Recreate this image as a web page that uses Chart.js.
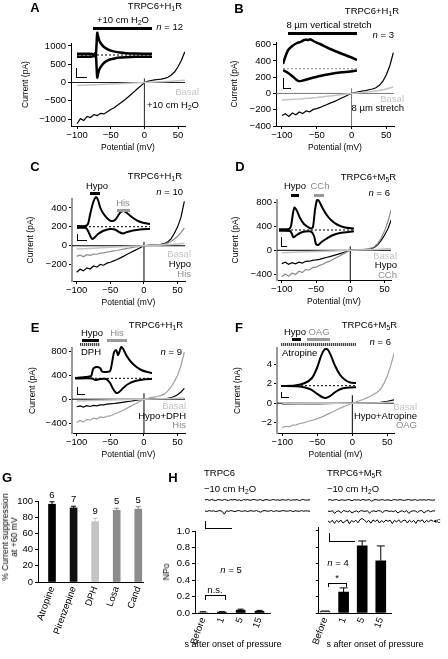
<!DOCTYPE html>
<html><head><meta charset="utf-8">
<script src="https://cdn.jsdelivr.net/npm/chart.js@4.4.1/dist/chart.umd.min.js"></script>
<style>
html,body{margin:0;padding:0;background:#fff;}
#fig{position:relative;width:448px;height:659px;overflow:hidden;background:#fff;font-family:'Liberation Sans',Arial,Helvetica,sans-serif;color:#000;}
#fig canvas{position:absolute;}
.lbl{position:absolute;white-space:nowrap;font-size:9.5px;line-height:1.15;will-change:transform;}
.lbl sub{font-size:70%;vertical-align:-0.3em;line-height:0;}
.let{font-weight:bold;font-size:13px;}
.box{position:absolute;}
.hatch{background:repeating-linear-gradient(90deg,#444 0 1px,#c8c8c8 1px 2px);}
</style></head><body><div id="fig"></div>
<script>
// ---- data ----
const mV = [-100,-95,-90,-85,-80,-75,-70,-65,-60,-55,-50,-45,-40,-35,-30,-25,-20,-15,-10,-5,0,5,10,15,20,25,30,35,40,45,50,55,60];
const mvCoarse = [-100,-75,-50,-25,0,25,40,50,60];
const potTicks = [-100,-50,0,50];

const aH2O = [-1130,-990,-1040,-930,-960,-880,-905,-845,-860,-800,-740,-690,-625,-555,-485,-410,-330,-250,-165,-85,-5,30,55,70,82,95,112,145,205,295,430,610,840];
const aBasal = [-80,-60,-40,-20,0,18,34,46,60];
const aTicks = [-1000,-500,0,500,1000];

const bStretch = [-270,-250,-282,-240,-262,-228,-246,-214,-226,-196,-186,-172,-152,-136,-116,-100,-80,-60,-40,-20,0,10,20,28,35,45,55,70,100,150,230,340,500];
const bBasal = [-80,-68,-50,-25,0,20,36,54,80];
const bTicks = [-400,-200,0,200,400,600];

const cHypo = [-280,-248,-266,-234,-246,-214,-226,-198,-206,-184,-175,-160,-145,-128,-110,-90,-72,-54,-36,-18,0,5,8,10,12,15,22,40,70,130,200,300,470];
const cHis = [-112,-98,-116,-94,-102,-88,-90,-78,-76,-66,-62,-55,-50,-42,-35,-28,-22,-15,-10,-5,0,3,5,7,9,12,18,28,45,70,100,140,190];
const cBasal = [-35,-26,-17,-9,0,8,14,19,26];
const cTicks = [-200,0,200,400];

const dHypo = [-222,-198,-232,-206,-226,-198,-212,-184,-182,-168,-160,-150,-135,-120,-105,-90,-72,-55,-37,-18,0,5,8,10,12,15,25,45,90,160,250,360,510];
const dCCh = [-440,-396,-432,-378,-404,-350,-372,-318,-332,-290,-282,-252,-232,-202,-180,-150,-120,-90,-60,-30,0,5,10,13,17,22,35,60,110,200,320,480,680];
const dBasal = [-40,-30,-20,-10,0,8,15,22,30];
const dTicks = [-400,0,400,800];

const eHypoDPH = [-126,-112,-132,-108,-122,-104,-112,-94,-96,-84,-78,-72,-65,-57,-50,-42,-34,-25,-17,-8,0,3,5,6,7,8,10,15,25,45,75,120,180];
const eHis = [-392,-356,-384,-338,-352,-318,-332,-296,-308,-286,-280,-252,-232,-206,-180,-150,-120,-90,-60,-30,0,12,25,35,45,60,85,130,200,290,400,560,790];
const eBasal = [-30,-22,-15,-7,0,6,11,15,20];
const eTicks = [-400,0,400,800];

const fOAG = [-2.5,-2.36,-2.42,-2.24,-2.22,-2.08,-2.02,-1.9,-1.8,-1.7,-1.58,-1.45,-1.3,-1.12,-0.95,-0.78,-0.6,-0.43,-0.28,-0.13,0,0.12,0.25,0.38,0.52,0.68,0.88,1.1,1.4,2.0,2.8,3.9,5.2];
const fHypoAtr = [-0.1,-0.08,-0.06,-0.03,0,0.04,0.1,0.2,0.35];
const fBasal = [-0.06,-0.05,-0.03,-0.015,0,0.02,0.04,0.06,0.08];
const fTicks = [-2,0,2,4];

// inset current traces (time in % of the trace, current in arbitrary units)
const aInT = [0,8,16,20,22,24,25,26,27,28,30,33,37,41,45,50,57,65,77,88,100];
const aInUp = [60,65,60,55,20,-60,-80,500,1110,950,700,520,370,280,220,170,120,90,70,65,65];
const aInDn = [-90,-85,-90,-80,-40,80,110,-500,-1130,-950,-700,-520,-360,-270,-210,-170,-130,-110,-90,-85,-85];

const bInUpT = [0,3,7,12.5,19,23,26,30,34,37,41,50,64,77,91,100];
const bInUp = [94,234,374,454,514,530,554,580,574,590,554,494,394,314,234,174];
const bInDnT = [0,7,14,20.6,27,36.7,50,64,77,91,100];
const bInDn = [-26,-86,-166,-246,-236,-196,-146,-106,-76,-56,-36];

const cInUpT = [0,11,15,17.8,21.9,26,28.8,31.5,35.6,41,46.6,52,56,60,64.4,68.5,75,83.6,91.8,100];
const cInUp = [7,7,27,117,237,297,267,197,137,87,57,67,107,147,157,137,97,57,37,27];
const cInDnT = [0,12.3,16.4,20.5,24.7,28.8,35.6,45.2,52,57.5,63,68.5,76.7,86.3,100];
const cInDn = [-13,-13,-63,-123,-103,-73,-43,-23,-28,-53,-68,-53,-38,-28,-23];

const dInUpT = [0,13.3,16,18.7,20.7,24,28,33.3,38.7,42.7,45.3,48,50.7,53.3,57.3,62.7,69.3,77.3,88,100];
const dInUp = [7,10,40,170,225,190,120,60,30,15,30,200,300,290,230,160,100,55,25,15];
const dInDnT = [0,14.7,17.3,19.3,22.7,28,34.7,42.7,46.7,49.3,52,56,62.7,70.7,81.3,100];
const dInDn = [-7,-10,-40,-73,-55,-30,-15,-15,-60,-140,-150,-125,-90,-55,-30,-13];

const eInUpT = [0,13,20.9,23.5,27.4,32.6,35.2,40.4,45.6,48.2,50.8,53.5,56,60,62.6,66.5,71.7,78.2,86,93.9,100];
const eInUp = [3,13,23,93,113,103,68,63,73,163,263,283,233,313,293,233,173,123,83,63,53];
const eInDnT = [0,22.2,26.1,32.6,40.4,45.6,49.5,53.5,57.4,62.6,69.1,78.2,88.7,100];
const eInDn = [-2,-2,-17,-7,-7,-47,-107,-147,-137,-97,-57,-27,-12,-7];

const fInUpT = [0,18.4,31.9,41.3,48,53.4,57.4,60.1,62.8,66.8,72.2,78.9,85.6,92.3,100];
const fInUp = [-3,2,27,77,177,297,357,367,357,297,197,107,57,32,27];
const fInDnT = [0,25.1,38.6,46.6,54.7,59.7,65.5,73.5,81.6,92.3,100];
const fInDn = [-3,-8,-33,-73,-113,-123,-103,-58,-28,-18,-16];

// G: suppression at +60 mV
const gDrugs = ['Atropine','Pirenzepine','DPH','Losa','Cand'];
const gSuppr = [96,91.5,74.5,88.5,90];
const gErr = [3,2,4.2,2.5,3];
const gN = [6,7,9,5,5];
const gTicks = [0,20,40,60,80,100];

// H: single channel NPo
const hCats = ['Before','1','5','15'];
const npoTRPC6 = [0.012,0.012,0.035,0.022];
const npoTRPC6Err = [0.004,0.004,0.012,0.01];
const npoM5R = [0.02,0.255,0.815,0.635];
const npoM5RErr = [0.004,0.05,0.06,0.18];
const npoTicks = [0,0.2,0.4,0.6,0.8,1.0];
const hL1 = [0,.3,-.2,.2,0,-.3,.2,.1,-.2,.3,0,-.3,.2,0,.3,-.2,.1,-.4,.2,0,.2,-.2,.1,.3,-.1,0,.2,-.3,.1,.2,-.2,0,.3,-.1,.1,-.2,.2,0,-.1,.3,-.2,.1,0,.2,-.3,.1,.2,-.1,0,.1];
const hL2 = [0,-.2,.2,-.1,.1,-.3,0,.2,-.2,-1.6,.1,-.2,.2,0,-.3,.1,.2,-.2,0,.1,-.3,.2,0,-.1,.2,-.2,-.6,.1,.2,-.1,0,.2,-.3,.1,0,-.2,.2,.1,-.1,0,.2,-.3,.1,0,-.2,.2,-.1,.1,0,-.1];
const hR1 = [0,.2,-.2,.1,.2,-.3,.1,0,-.2,.2,.1,-.4,.2,0,.1,-.2,.3,-.1,0,.2,-.6,.1,.2,-.1,0,.2,-.2,.1,0,-.3,.2,.1,-.1,.2,0,-.2,.1,.2,-.1,0,.2,-.2,.1,0,.1,-.1,.2,0,-.1,.1];
const hR2 = [0,-.3,.2,-1.2,-.2,.1,-.9,.2,0,-.4,.2,-1.0,-.3,.1,-.6,.2,0,-.2,.2,-1.1,-.1,.1,-.3,.2,0,-.8,.1,.2,-.2,0,-.3,.2,-1.0,-.2,.1,-.5,.2,-1.2,-.2,.1,0,-.7,.1,.2,-1.0,-.1,.2,-.4,.1,0];
const hR3 = [0,-.8,.4,-1.2,.3,-.6,.5,-1.0,-.2,.6,-1.4,.2,-.5,.4,-.9,.8,1.2,.4,-.6,.3,-1.1,.5,-.3,.6,-1.0,.2,-.7,.5,-.2,.4,-1.3,.3,-.5,.6,-.8,.2,.5,-1.0,.4,-.6,.3,-1.2,.5,-.2,.6,-.9,.3,-.4,.5,0];

// ---- drawing ----
const FONT = "'Liberation Sans', Arial, Helvetica, sans-serif";
Chart.defaults.font.family = FONT;
Chart.defaults.font.size = 9.5;
Chart.defaults.color = '#000';
const GRAY = '#8c8c8c', LIGHT = '#c4c4c4';
const fig = document.getElementById('fig');

function mkCanvas(l, t, w, h) {
  const c = document.createElement('canvas');
  c.width = Math.round(w); c.height = Math.round(h);
  c.style.left = Math.round(l) + 'px'; c.style.top = Math.round(t) + 'px';
  fig.appendChild(c);
  return c;
}
function txt(html, x, y, o = {}) {
  const d = document.createElement('div');
  d.className = 'lbl' + (o.cls ? ' ' + o.cls : '');
  d.innerHTML = html;
  d.style.left = x + 'px'; d.style.top = y + 'px';
  if (o.color) d.style.color = o.color;
  if (o.size) d.style.fontSize = o.size + 'px';
  const ax = o.align === 'left' ? '0' : o.align === 'right' ? '-100%' : '-50%';
  d.style.transform = `translate(${ax},-50%)` + (o.rot ? ` rotate(${o.rot}deg)` : '');
  fig.appendChild(d);
}
function rect(x1, y1, x2, y2, color, cls) {
  const d = document.createElement('div');
  d.className = 'box' + (cls ? ' ' + cls : '');
  d.style.left = x1 + 'px'; d.style.top = y1 + 'px';
  d.style.width = (x2 - x1) + 'px'; d.style.height = (y2 - y1) + 'px';
  if (color) d.style.background = color;
  fig.appendChild(d);
}
const fmt = v => v < 0 ? '\u2212' + Math.abs(v) : String(v);
const pts = (xs, ys) => xs.map((v, i) => ({ x: v, y: ys[i] }));
const base = { responsive: false, animation: false, devicePixelRatio: 1, events: [],
  plugins: { legend: { display: false }, tooltip: { enabled: false } } };

const refLines = {
  id: 'refLines',
  beforeDatasetsDraw(chart, args, o) {
    const { ctx, chartArea: a, scales: { x, y } } = chart;
    const y0 = y.getPixelForValue(0), x0 = x.getPixelForValue(0);
    ctx.save();
    ctx.strokeStyle = o.color; ctx.lineWidth = 1;
    ctx.beginPath();
    ctx.moveTo(a.left, y0); ctx.lineTo(a.right, y0);
    ctx.moveTo(x0, a.bottom); ctx.lineTo(x0, y0 - o.above);
    ctx.stroke();
    ctx.restore();
  }
};

function ivChart(p) {
  const PT = 8, PR = 10, XH = 28;
  const cv = mkCanvas(p.l - p.yw, p.t - PT, p.yw + (p.r - p.l) + PR, PT + (p.b - p.t) + XH);
  new Chart(cv, {
    type: 'scatter',
    data: { datasets: p.lines.map(s => ({ data: pts(s[0], s[1]), showLine: true, borderColor: s[2],
      borderWidth: s[3], pointRadius: 0, tension: 0 })) },
    options: Object.assign({}, base, {
      layout: { padding: { top: PT, right: PR, left: 0, bottom: 0 } },
      plugins: Object.assign({}, base.plugins, { refLines: { color: p.zero, above: p.above } }),
      scales: {
        x: { type: 'linear', min: p.x[0], max: p.x[1],
          afterFit: s => { s.height = XH; },
          afterBuildTicks: s => { s.ticks = potTicks.map(v => ({ value: v })); },
          ticks: { callback: fmt, padding: 1, maxRotation: 0, autoSkip: false },
          grid: { drawOnChartArea: false, tickLength: 3, color: '#000' },
          border: { color: '#000', width: 1 },
          title: { display: true, text: 'Potential (mV)', font: { size: 8.5 }, padding: { top: 0, bottom: 1 } } },
        y: { min: p.y[0], max: p.y[1],
          afterFit: s => { s.width = p.yw; },
          afterBuildTicks: s => { s.ticks = p.yTicks.map(v => ({ value: v })); },
          ticks: { callback: fmt, padding: 2, autoSkip: false },
          grid: { drawOnChartArea: false, tickLength: 3, color: '#000' },
          border: { color: p.axis, width: p.axisW },
          title: { display: true, text: p.yTitle, font: { size: 8.5 }, padding: { top: 2, bottom: 0 } } }
      }
    }),
    plugins: [refLines]
  });
}

function inset(b, traces, dash, w) {
  const cv = mkCanvas(b.l, b.t, b.w, b.h);
  const ds = traces.map(tr => ({ data: pts(tr[0], tr[1]), showLine: true, borderColor: '#000',
    borderWidth: w, pointRadius: 0, tension: 0.25, clip: false }));
  const all = traces.flatMap(tr => tr[0]);
  const t0 = Math.min(...all), t1 = Math.max(...all);
  ds.unshift({ data: [{ x: t0, y: 0 }, { x: t1, y: 0 }], showLine: true, borderColor: dash,
    borderWidth: 1, borderDash: [2, 2], pointRadius: 0, clip: false });
  new Chart(cv, { type: 'scatter', data: { datasets: ds },
    options: Object.assign({}, base, { layout: { padding: 0 },
      scales: { x: { display: false, min: 0, max: 100 }, y: { display: false, min: b.y[0], max: b.y[1] } } }) });
}

// IV panels
const ivPanels = [
  { l: 71, r: 184.5, t: 42.7, b: 126, x: [-109, 60.3], y: [-1191, 1082], yTicks: aTicks, yw: 52, yTitle: 'Current (pA)',
    axis: '#000', axisW: 1, zero: '#222', above: 4,
    lines: [[mvCoarse, aBasal, LIGHT, 1.5], [mV, aH2O, '#000', 1.2]] },
  { l: 276.3, r: 394, t: 41.7, b: 126, x: [-108.5, 61], y: [-400, 632], yTicks: bTicks, yw: 48, yTitle: 'Current (pA)',
    axis: '#000', axisW: 1, zero: '#777', above: 5,
    lines: [[mvCoarse, bBasal, LIGHT, 1.5], [mV, bStretch, '#000', 1.2]] },
  { l: 71.7, r: 185, t: 199.3, b: 281.7, x: [-107, 61], y: [-373, 495], yTicks: cTicks, yw: 48, yTitle: 'Current (pA)',
    axis: '#9a9a9a', axisW: 2, zero: '#000', above: 4,
    lines: [[mvCoarse, cBasal, LIGHT, 1.5], [mV, cHis, GRAY, 1.2], [mV, cHypo, '#000', 1.2]] },
  { l: 277.3, r: 391.5, t: 200, b: 280, x: [-107, 59.5], y: [-495, 838], yTicks: dTicks, yw: 48, yTitle: 'Current (pA)',
    axis: '#9a9a9a', axisW: 2, zero: '#000', above: 4,
    lines: [[mvCoarse, dBasal, LIGHT, 1.5], [mV, dCCh, GRAY, 1.2], [mV, dHypo, '#000', 1.2]] },
  { l: 71.7, r: 185, t: 348.3, b: 433, x: [-107, 61], y: [-566, 857], yTicks: eTicks, yw: 46, yTitle: 'Current (pA)',
    axis: '#9a9a9a', axisW: 2, zero: '#000', above: 6,
    lines: [[mvCoarse, eBasal, LIGHT, 1.5], [mV, eHis, '#a0a0a0', 1.2], [mV, eHypoDPH, '#000', 1.2]] },
  { l: 276.7, r: 394, t: 348.3, b: 433, x: [-107.6, 59.5], y: [-3.05, 5.65], yTicks: fTicks, yw: 46, yTitle: 'Current (nA)',
    axis: '#9a9a9a', axisW: 2, zero: '#000', above: 8,
    lines: [[mvCoarse, fBasal, LIGHT, 1.5], [mV, fOAG, '#a0a0a0', 1.2], [mvCoarse, fHypoAtr, '#000', 1.2]] }
];
ivPanels.forEach(ivChart);

// insets
inset({ l: 77, t: 30, w: 75, h: 50, y: [-1250, 1250] }, [[aInT, aInUp], [aInT, aInDn]], '#000', 2.5);
inset({ l: 283, t: 35, w: 74, h: 57, y: [-466, 674] }, [[bInUpT, bInUp], [bInDnT, bInDn]], '#888', 2.5);
inset({ l: 77, t: 190, w: 73, h: 55, y: [-183, 367] }, [[cInUpT, cInUp], [cInDnT, cInDn]], '#000', 2);
inset({ l: 279, t: 195, w: 75, h: 55, y: [-200, 350] }, [[dInUpT, dInUp], [dInDnT, dInDn]], '#000', 2);
inset({ l: 75, t: 340, w: 77, h: 60, y: [-217, 383] }, [[eInUpT, eInUp], [eInDnT, eInDn]], '#000', 2);
inset({ l: 281, t: 345, w: 75, h: 57, y: [-163, 407] }, [[fInUpT, fInUp], [fInDnT, fInDn]], '#000', 2);

// error bars + n labels for bar charts
const errorBars = {
  id: 'errorBars',
  afterDatasetsDraw(chart) {
    const ctx = chart.ctx, ys = chart.scales.y;
    chart.data.datasets.forEach((ds, di) => {
      if (!ds.errs) return;
      chart.getDatasetMeta(di).data.forEach((bar, i) => {
        const top = ys.getPixelForValue(ds.data[i].y + ds.errs[i]);
        ctx.save();
        ctx.strokeStyle = ds.errColors[i]; ctx.lineWidth = 1;
        ctx.beginPath();
        ctx.moveTo(bar.x, bar.y); ctx.lineTo(bar.x, top);
        ctx.moveTo(bar.x - ds.cap, top); ctx.lineTo(bar.x + ds.cap, top);
        ctx.stroke();
        if (ds.nLabels) {
          ctx.fillStyle = '#000'; ctx.font = '9.5px ' + FONT;
          ctx.textAlign = 'center'; ctx.textBaseline = 'bottom';
          ctx.fillText(String(ds.nLabels[i]), bar.x, top - 2);
        }
        ctx.restore();
      });
    });
  }
};

function barChart(p) {
  const cv = mkCanvas(p.l - p.yw, p.t - p.pt, p.yw + (p.r - p.l) + 10, p.pt + (p.b - p.t) + p.xh);
  new Chart(cv, {
    type: 'bar',
    data: { datasets: [{ data: p.vals.map((v, i) => ({ x: i + 1, y: v })), backgroundColor: p.colors,
      borderColor: '#000', borderWidth: p.borders, barThickness: p.bw, errs: p.errs, errColors: p.errColors,
      cap: p.cap, nLabels: p.n }] },
    options: Object.assign({}, base, {
      layout: { padding: { top: p.pt, right: 10, left: 0, bottom: 0 } },
      scales: {
        x: { type: 'linear', min: p.x[0], max: p.x[1], offset: false,
          afterFit: s => { s.height = p.xh; },
          afterBuildTicks: s => { s.ticks = p.cats.map((c, i) => ({ value: i + 1 })); },
          ticks: { callback: (v, i) => p.cats[i], minRotation: p.rot, maxRotation: p.rot, autoSkip: false, padding: 3 },
          grid: { display: true, drawOnChartArea: false, drawTicks: false, offset: false },
          border: { color: '#000', width: 1 } },
        y: { min: p.y[0], max: p.y[1],
          afterFit: s => { s.width = p.yw; },
          afterBuildTicks: s => { s.ticks = p.yTicks.map(v => ({ value: v })); },
          ticks: { callback: p.yFmt, padding: 2, autoSkip: false, font: { size: 9.5 } },
          grid: { drawOnChartArea: false, tickLength: 3, color: '#000' },
          border: { color: '#000', width: 1 } }
      }
    }),
    plugins: [errorBars]
  });
}

barChart({ l: 38.3, r: 143.3, t: 501, b: 582.3, pt: 15, xh: 72, yw: 30, x: [0.35, 5.22], y: [0, 100],
  yTicks: gTicks, yFmt: v => String(v), cats: gDrugs, rot: 70, vals: gSuppr, errs: gErr, n: gN,
  colors: ['#000', '#111', '#c4c4c4', '#8c8c8c', '#8c8c8c'], errColors: ['#000', '#000', '#c4c4c4', '#8c8c8c', '#8c8c8c'],
  borders: 0, bw: 7, cap: 2.5 });
barChart({ l: 195, r: 270, t: 531, b: 613.3, pt: 8, xh: 40, yw: 25, x: [0.574, 4.56], y: [0, 1],
  yTicks: npoTicks, yFmt: v => v.toFixed(1), cats: hCats, rot: 70, vals: npoTRPC6, errs: npoTRPC6Err,
  colors: ['#8c8c8c', '#000', '#000', '#000'], errColors: ['#000', '#000', '#000', '#000'], borders: 0, bw: 9, cap: 3 });
barChart({ l: 317.3, r: 391, t: 527.3, b: 613.3, pt: 8, xh: 40, yw: 5, x: [0.66, 4.55], y: [0, 1.045],
  yTicks: npoTicks, yFmt: () => '', cats: hCats, rot: 70, vals: npoM5R, errs: npoM5RErr,
  colors: ['#fff', '#000', '#000', '#000'], errColors: ['#000', '#000', '#000', '#000'], borders: [1, 0, 0, 0], bw: 10, cap: 4 });

// single-channel traces
function traceRow(vals, l, y, w) {
  const cv = mkCanvas(l, y - 5, w, 10);
  new Chart(cv, { type: 'line',
    data: { labels: vals.map((_, i) => i), datasets: [{ data: vals, borderColor: '#000', borderWidth: 1, pointRadius: 0, clip: false }] },
    options: Object.assign({}, base, { layout: { padding: 0 },
      scales: { x: { display: false }, y: { display: false, min: -2.5, max: 2.5 } } }) });
}
traceRow(hL1, 205, 500, 105);
traceRow(hL2, 205, 511, 105);
traceRow(hR1, 328, 500, 107);
traceRow(hR2, 328, 511, 107);
traceRow(hR3, 328, 521, 105);

// ---- annotations ----
const L = { cls: 'let', size: 13 };
txt('A', 35, 8, L); txt('B', 239, 9, L); txt('C', 35, 167, L); txt('D', 240, 167, L);
txt('E', 35, 328, L); txt('F', 239, 328, L); txt('G', 7, 478, L); txt('H', 173, 478, L);

// A
txt('TRPC6+H<sub>1</sub>R', 182, 6, { align: 'right' });
txt('+10 cm H<sub>2</sub>O', 123, 19.5);
rect(93, 26.5, 152, 29.5, '#000');
txt('<i>n</i> = 12', 183, 27, { align: 'right' });
txt('Basal', 199, 92, { align: 'right', color: LIGHT });
txt('+10 cm H<sub>2</sub>O', 199, 105, { align: 'right' });
rect(76, 68, 77, 78, '#000'); rect(76, 77, 87, 78, '#000');
// B
txt('TRPC6+H<sub>1</sub>R', 399, 11, { align: 'right' });
txt('8 \u00b5m vertical stretch', 329, 25);
rect(288, 32, 357, 35, '#000');
txt('<i>n</i> = 3', 394, 35, { align: 'right' });
txt('Basal', 404, 99, { align: 'right', color: LIGHT });
txt('8 \u00b5m stretch', 404, 108, { align: 'right' });
rect(283, 78, 284, 89, '#000'); rect(283, 88, 291, 89, '#000');
// C
txt('TRPC6+H<sub>1</sub>R', 182, 176, { align: 'right' });
txt('<i>n</i> = 10', 183, 192, { align: 'right' });
txt('Hypo', 96.7, 185.7);
rect(90, 192, 100, 195, '#000');
txt('His', 123, 203.3, { color: GRAY });
rect(117, 209, 130, 212, '#999');
txt('Basal', 191, 254, { align: 'right', color: LIGHT });
txt('Hypo', 191, 264, { align: 'right' });
txt('His', 191, 274, { align: 'right', color: GRAY });
rect(77, 234, 78, 241, '#000'); rect(77, 240, 87, 241, '#000');
// D
txt('TRPC6+M<sub>5</sub>R', 395.7, 176.7, { align: 'right' });
txt('<i>n</i> = 6', 389.7, 193.3, { align: 'right' });
txt('Hypo', 295, 186);
rect(290.7, 193.5, 299, 196.5, '#000');
txt('CCh', 319.7, 186, { color: GRAY });
rect(314, 193.5, 324, 196.5, '#999');
txt('Basal', 396.7, 256, { align: 'right', color: LIGHT });
txt('Hypo', 396.7, 265, { align: 'right' });
txt('CCh', 396.7, 275, { align: 'right', color: GRAY });
rect(280.7, 237.3, 281.7, 247, '#000'); rect(280.7, 246, 287.3, 247, '#000');
// E
txt('TRPC6+H<sub>1</sub>R', 182.7, 325, { align: 'right' });
txt('<i>n</i> = 9', 181.7, 351.7, { align: 'right' });
txt('Hypo', 91.7, 333.3);
rect(81.7, 338.5, 99.3, 341.5, '#000');
rect(80, 343, 100, 346, null, 'hatch');
txt('DPH', 90.7, 351.7);
txt('His', 116.7, 333.3, { color: GRAY });
rect(106.7, 338.5, 126.7, 341.5, '#999');
txt('Basal', 185.7, 406, { align: 'right', color: LIGHT });
txt('Hypo+DPH', 185.7, 416, { align: 'right' });
txt('His', 185.7, 425, { align: 'right', color: GRAY });
rect(76.7, 387.3, 77.7, 395, '#000'); rect(76.7, 394, 85, 395, '#000');
// F
txt('TRPC6+M<sub>5</sub>R', 396.7, 325, { align: 'right' });
txt('<i>n</i> = 6', 390.7, 342.3, { align: 'right' });
txt('Hypo', 295, 331.7);
rect(292, 338, 301, 341, '#000');
txt('OAG', 319, 331.7, { color: GRAY });
rect(306.7, 338, 330, 341, '#999');
rect(281.3, 343, 355.7, 346, null, 'hatch');
txt('Atropine', 282.3, 353.3, { align: 'left' });
txt('Basal', 416.7, 406.7, { align: 'right', color: LIGHT });
txt('Hypo+Atropine', 416.7, 416, { align: 'right' });
txt('OAG', 416.7, 425, { align: 'right', color: GRAY });
rect(281.3, 391.7, 282.3, 397.7, '#000'); rect(281.3, 396.7, 289, 397.7, '#000');
// G
txt('% Current suppression', 6, 537, { rot: -90, size: 8.6 });
txt('at +60 mV', 15, 537, { rot: -90, size: 8.6 });
// H
txt('TRPC6', 204, 473.3, { align: 'left' });
txt('\u221210 cm H<sub>2</sub>O', 204, 489, { align: 'left' });
txt('TRPC6+M<sub>5</sub>R', 326.7, 473.3, { align: 'left' });
txt('\u221210 cm H<sub>2</sub>O', 326.7, 489, { align: 'left' });
rect(205, 520.7, 206, 529, '#000'); rect(205, 528, 231.7, 529, '#000');
rect(329, 533.3, 330, 541.5, '#000'); rect(329, 540.5, 355, 541.5, '#000');
txt('\u25c2c', 433, 521, { align: 'left', size: 7 });
txt('NPo', 167.3, 571.7, { rot: -90, size: 8.6 });
txt('n.s.', 215, 590);
rect(205, 595, 225.7, 596, '#000'); rect(205, 595, 206, 600, '#000'); rect(224.7, 595, 225.7, 600, '#000');
txt('<i>n</i> = 5', 230.7, 570);
txt('*', 337, 578);
rect(327.7, 582.7, 346.7, 583.7, '#000'); rect(327.7, 582.7, 328.7, 587, '#000'); rect(345.7, 582.7, 346.7, 587, '#000');
txt('<i>n</i> = 4', 338.3, 563.3);
txt('s after onset of pressure', 233.3, 644, { size: 9 });
txt('s after onset of pressure', 375, 644, { size: 9 });
</script></body></html>
